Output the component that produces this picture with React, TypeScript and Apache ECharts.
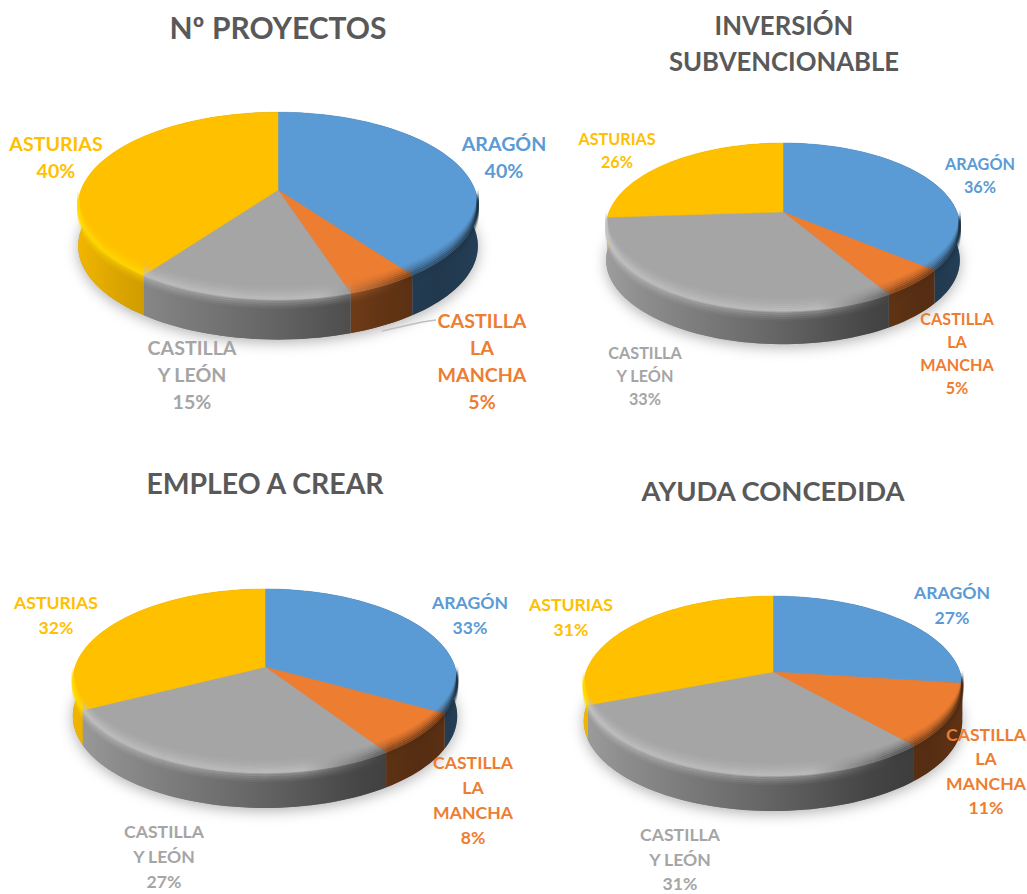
import React, { useEffect, useRef } from "react";
import * as echarts from "echarts";

const regions = ["ARAGÓN", "CASTILLA\nLA\nMANCHA", "CASTILLA\nY LEÓN", "ASTURIAS"];
const titles = ["Nº PROYECTOS", "INVERSIÓN\nSUBVENCIONABLE", "EMPLEO A CREAR", "AYUDA CONCEDIDA"];
// the printed percentages are these values rounded
const proyectos = [40, 5, 15, 40];
const inversion = [36, 5.4, 32.6, 26];
const empleo = [33, 7.6, 27, 32.4];
const ayuda = [27, 11.4, 30.8, 30.8];
const pieValues = [proyectos, inversion, empleo, ayuda];

const baseColors = [[91, 155, 213], [237, 125, 49], [165, 165, 165], [255, 192, 0]];
const lightColors = ["#84b8e8", "#f4995a", "#c6c6c6", "#ffdc00"];
const FONT = "Lato, Carlito, sans-serif";

// apex x/y, radius x/y, perspective factor, wall depth
const pieLayout = [
  { cx: 278, cy: 190, rx: 197, ry: 91, k: 0.17, depth: 40 },
  { cx: 783, cy: 212, rx: 174, ry: 81.4, k: 0.18, depth: 33 },
  { cx: 265, cy: 667, rx: 190, ry: 89.9, k: 0.152, depth: 35 },
  { cx: 773, cy: 672, rx: 187, ry: 87.8, k: 0.156, depth: 35 },
];
const titleLayout = [
  { x: 278, y: 27, size: 30, lh: 36 },
  { x: 784, y: 43, size: 25.7, lh: 36 },
  { x: 265, y: 483, size: 28.4, lh: 36 },
  { x: 773, y: 490, size: 27.4, lh: 36 },
];
// centres of [aragón, castilla la mancha, castilla y león, asturias] label blocks
const labelLayout = [
  { size: 19.6, lh: 27, at: [[504, 157], [482, 361], [192, 374], [56, 157]] },
  { size: 16.2, lh: 23, at: [[980, 175], [957, 353], [645, 375], [617, 150]] },
  { size: 17.6, lh: 25, at: [[470, 615], [473, 800], [164, 856], [56, 615]] },
  { size: 17.6, lh: 24.5, at: [[952, 605], [986, 771], [680, 859], [571, 617]] },
];

const rgb = (c: number[], f = 1) => `rgb(${c.map((v) => Math.round(v * f)).join(",")})`;

function project(p: any, deg: number, yOff = 0): [number, number] {
  const a = (deg * Math.PI) / 180;
  const u = Math.sin(a);
  const v = -Math.cos(a);
  const w = 1 - p.k * v;
  return [p.cx + (p.rx * u) / w, p.cy + (p.ry * v) / w + yOff];
}

function arc(p: any, a0: number, a1: number, yOff = 0) {
  const pts: [number, number][] = [];
  const n = Math.max(2, Math.ceil((a1 - a0) / 2));
  for (let i = 0; i <= n; i++) pts.push(project(p, a0 + ((a1 - a0) * i) / n, yOff));
  return pts;
}

const bevelOffsets = [-12, -10, -8, -6, -4, -2, 0, 2, 4, 6, 8];
const bevelAlpha = [0.06, 0.12, 0.2, 0.3, 0.42, 0.55, 0.55, 0.36, 0.24, 0.14, 0.06];

function makeSeries(values: number[], p: any) {
  const R = p.rx * 1.02;
  const total = values.reduce((a, b) => a + b, 0);
  const grad = (stops: any[]) => new echarts.graphic.LinearGradient(p.cx - R, 0, p.cx + R, 0, stops, true);
  return {
    type: "custom",
    coordinateSystem: "none",
    silent: true,
    data: values.map((v, i) => ({ name: regions[i].replace(/\n/g, " "), value: [v] })),
    renderItem: (params: any, api: any) => {
      const i = params.dataIndex;
      const before = values.slice(0, i).reduce((a, b) => a + b, 0);
      const a0 = (before / total) * 360;
      const a1 = ((before + api.value(0)) / total) * 360;
      const c = baseColors[i];
      const children: any[] = [];
      if (i === 0) {
        children.push({
          type: "polygon",
          z2: 0,
          shape: { points: arc(p, 0, 360, p.depth) },
          style: { fill: "#999", shadowBlur: 14, shadowColor: "rgba(0,0,0,0.3)", shadowOffsetY: 3 },
        });
      }
      const wallTop = arc(p, a0, a1);
      const wallBottom = arc(p, a0, a1, p.depth).reverse();
      children.push({
        type: "polygon",
        z2: 1,
        shape: { points: [...wallTop, ...wallBottom] },
        style: {
          fill: grad([
            { offset: 0, color: rgb(c, 0.95) },
            { offset: 0.1, color: rgb(c, 0.86) },
            { offset: 0.25, color: rgb(c, 0.76) },
            { offset: 0.5, color: rgb(c, 0.6) },
            { offset: 0.75, color: rgb(c, 0.42) },
            { offset: 0.9, color: rgb(c, 0.36) },
            { offset: 1, color: rgb(c, 0.4) },
          ]),
        },
      });
      children.push({
        type: "polygon",
        z2: 2,
        shape: { points: [[p.cx, p.cy], ...wallTop] },
        style: { fill: rgb(c), stroke: rgb(c), lineWidth: 0.5 },
      });
      const f0 = Math.max(a0, 97);
      const f1 = Math.min(a1, 263);
      if (f1 > f0) {
        bevelOffsets.forEach((d, j) => {
          children.push({
            type: "polyline",
            z2: 3 + j,
            shape: { points: arc(p, f0, f1, d) },
            style: {
              fill: null,
              lineWidth: 2.3,
              opacity: bevelAlpha[j],
              stroke: grad([
                { offset: 0, color: lightColors[i] },
                { offset: 0.6, color: lightColors[i] },
                { offset: 0.82, color: rgb(c, 0.35) },
                { offset: 1, color: rgb(c, 0.3) },
              ]),
            },
          });
        });
      }
      return { type: "group", children };
    },
  };
}

function makeLabels() {
  const out: any[] = [];
  pieValues.forEach((values, n) => {
    const l = labelLayout[n];
    values.forEach((v, i) => {
      const fill = rgb(baseColors[i]);
      out.push({
        type: "text",
        x: l.at[i][0],
        y: l.at[i][1],
        z: 20,
        style: {
          text: `${regions[i]}\n${Math.round(v)}%`,
          fill,
          fontFamily: FONT,
          fontWeight: "bold",
          fontSize: l.size,
          lineHeight: l.lh,
          align: "center",
          verticalAlign: "middle",
          textAlign: "center",
          textVerticalAlign: "middle",
        },
      });
    });
  });
  out.push({
    type: "polyline",
    z: 19,
    shape: { points: [[382, 331], [422, 322], [436, 320]] },
    style: { stroke: "#bfbfbf", lineWidth: 1.5, fill: null },
  });
  return out;
}

export default function App() {
  const ref = useRef<HTMLDivElement>(null);
  useEffect(() => {
    document.body.style.margin = "0";
    const chart = echarts.init(ref.current!, undefined, { renderer: "svg" });
    chart.setOption({
      animation: false,
      backgroundColor: "#ffffff",
      title: titles.map((t, i) => ({
        text: t,
        left: titleLayout[i].x,
        top: titleLayout[i].y - (titleLayout[i].lh * t.split("\n").length) / 2,
        textAlign: "center",
        padding: 0,
        textStyle: {
          color: "#595959",
          fontFamily: FONT,
          fontWeight: "bold",
          fontSize: titleLayout[i].size,
          lineHeight: titleLayout[i].lh,
        },
      })),
      series: pieValues.map((v, i) => makeSeries(v, pieLayout[i])),
      graphic: makeLabels(),
    });
    return () => chart.dispose();
  }, []);
  return <div ref={ref} style={{ position: "absolute", left: 0, top: 0, width: 1027, height: 894 }} />;
}
